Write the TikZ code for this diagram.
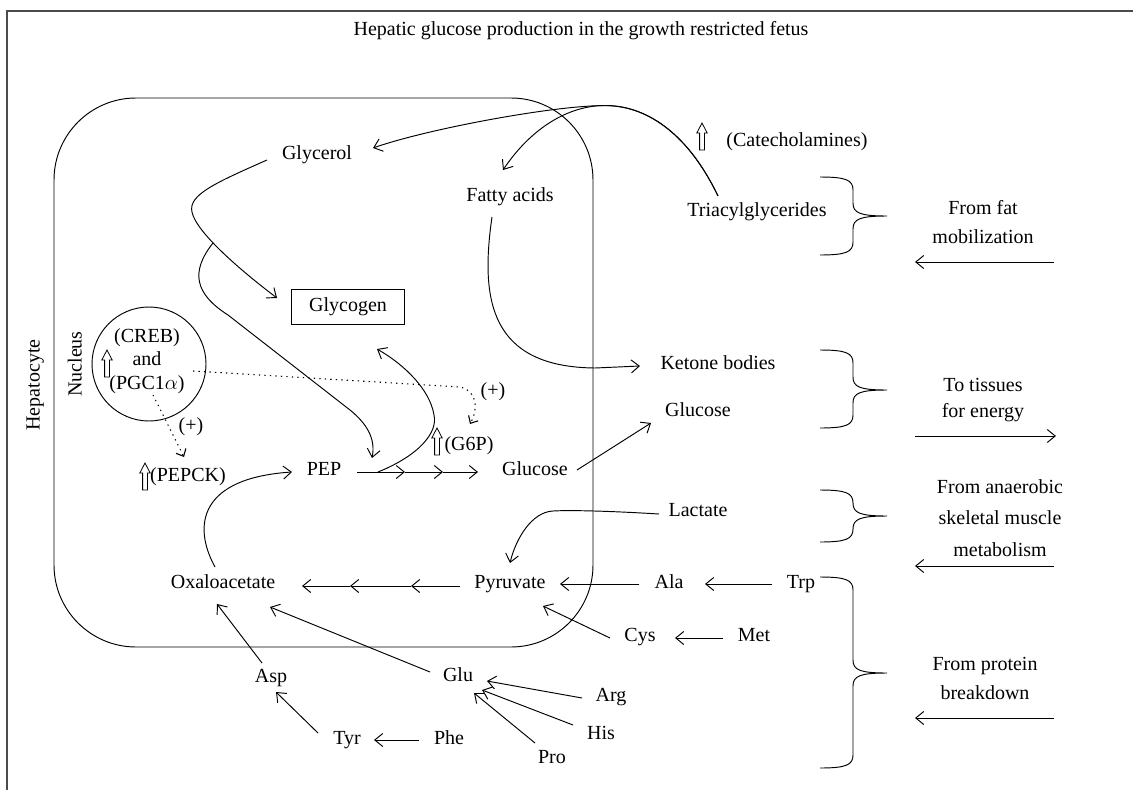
\documentclass[tikz,border=0pt]{standalone}
\usepackage{fontspec}
\setmainfont{Liberation Serif}
\usetikzlibrary{arrows.meta,calc}
\tikzset{
  lbl/.style={font=\fontsize{20}{24}\selectfont, inner sep=0pt, text height=13pt, text depth=4pt},
  multi/.style={font=\fontsize{20}{29}\selectfont, inner sep=0pt, align=center},
  ln/.style={line width=0.95pt},
  arr/.style={ln, -{Straight Barb[length=8pt,width=13pt]}},
  dotarr/.style={line width=1.1pt, dash pattern=on 1.3pt off 4.2pt, -{Straight Barb[length=6pt,width=11pt]}},
  hollow/.pic={\draw[line width=0.8pt, line join=miter] (-2.4,0) -- (-2.4,-17) -- (-5.2,-17) -- (0,-27) -- (5.2,-17) -- (2.4,-17) -- (2.4,0) -- cycle;},
}
\newcommand\mybrace[3]{\draw[ln] (820,#1) .. controls (846,#1) and (853,#1+3) .. (853,#1+13) -- (853,#2-13) .. controls (853,#2-3) and (860,#2) .. (887,#2) .. controls (860,#2) and (853,#2+3) .. (853,#2+13) -- (853,#3-13) .. controls (853,#3-3) and (846,#3) .. (820,#3);}
\begin{document}
\begin{tikzpicture}[x=1pt,y=-1pt]
\useasboundingbox (0,0) rectangle (1133,790);
\draw[black!70, line width=1.6pt] (7,790) -- (7,11) -- (1133,11);
\node[lbl] (title) at (581,31) {Hepatic glucose production in the growth restricted fetus};
% cell and nucleus
\node[draw, ln, rounded corners=82pt, minimum width=539pt, minimum height=549pt, inner sep=0pt] (cell) at (323.5,372.5) {};
\node[lbl, rotate=90] (hep) at (35,385) {Hepatocyte};
\node[draw, ln, circle, minimum size=114pt, inner sep=0pt] (nuc) at (149,364) {};
\node[lbl, rotate=90] (nuclab) at (77,364) {Nucleus};
\node[font=\fontsize{20}{23.5}\selectfont, inner sep=0pt, align=center] (creb) at (147,361) {(CREB)\\and\\(PGC1$\alpha$)};
\pic at (107,377) {hollow};
% metabolites
\node[lbl] (glycerol) at (317,155) {Glycerol};
\node[lbl, draw, ln, minimum width=113pt, minimum height=35pt] (glycogen) at (348,307) {Glycogen};
\node[lbl] (fatty) at (510,197) {Fatty acids};
\node[lbl] (tri) at (757,212) {Triacylglycerides};
\node[lbl] (catech) at (797,142) {(Catecholamines)};
\pic at (702,150) {hollow};
\node[lbl] (ketone) at (718,365) {Ketone bodies};
\node[lbl] (glcU) at (698,412) {Glucose};
\node[lbl] (glcM) at (535,471) {Glucose};
\node[lbl] (g6p) at (469,446) {(G6P)};
\pic at (437,455) {hollow};
\node[lbl] (pepck) at (188,477) {(PEPCK)};
\pic at (145,490) {hollow};
\node[lbl] (plus1) at (191,427) {(+)};
\node[lbl] (plus2) at (493,392) {(+)};
\node[lbl] (pep) at (324,471) {PEP};
\node[lbl] (lactate) at (698,512) {Lactate};
\node[lbl] (pyr) at (510,584) {Pyruvate};
\node[lbl] (ala) at (669,584) {Ala};
\node[lbl] (trp) at (801,584) {Trp};
\node[lbl] (cys) at (640,637) {Cys};
\node[lbl] (met) at (754,637) {Met};
\node[lbl] (glu) at (458,677) {Glu};
\node[lbl] (arg) at (611,697) {Arg};
\node[lbl] (his) at (601,735) {His};
\node[lbl] (pro) at (552,759) {Pro};
\node[lbl] (phe) at (449,740) {Phe};
\node[lbl] (tyr) at (347,740) {Tyr};
\node[lbl] (asp) at (271,678) {Asp};
\node[lbl] (oxa) at (223,584) {Oxaloacetate};
% right-hand texts
\node[multi] (fat) at (983,222) {From fat\\mobilization};
\node[font=\fontsize{20}{26}\selectfont, inner sep=0pt, align=center] (tis) at (983,400) {To tissues\\for energy};
\node[font=\fontsize{20}{31.5}\selectfont, inner sep=0pt, align=center] (anaer) at (1000,518) {From anaerobic\\skeletal muscle\\metabolism};
\node[multi] (prot) at (985,678) {From protein\\breakdown};
\draw[arr] ([shift={(71,40)}]fat.center) -- ([shift={(-68,40)}]fat.center);
\draw[arr] ([shift={(-68,36)}]tis.center) -- ([shift={(73,36)}]tis.center);
\draw[arr] ([shift={(54,48)}]anaer.center) -- ([shift={(-85,48)}]anaer.center);
\draw[arr] ([shift={(69,40)}]prot.center) -- ([shift={(-70,40)}]prot.center);
% braces
\mybrace{177}{216}{255}
\mybrace{350}{390}{428}
\mybrace{490}{516}{542}
\mybrace{577}{673}{768}
% fat mobilisation
\draw[arr] ([shift={(-39,-16)}]tri.center) .. controls (689,135.5) and (649.5,107.75) .. (610,105.75) .. controls (565,103.5) and (430,128) .. ([shift={(56,-7)}]glycerol.center);
\draw[arr] ([shift={(-39,-16)}]tri.center) .. controls (660,75) and (560,85) .. ([shift={(-7,-27)}]fatty.center);
\draw[arr] ([shift={(-50,5)}]glycerol.center) .. controls (215,183) and (188,195) .. (192,212) .. controls (196,232) and (240,270) .. ([shift={(-71,-9)}]glycogen.center);
\coordinate (br) at (213,243);
\draw[arr] (br) .. controls (190,272) and (195,294) .. (228,315) -- (350,410) .. controls (366,423) and (376,438) .. ([shift={(48,-13)}]pep.center);
\draw[arr] ([shift={(-18,20)}]fatty.center) .. controls (480,300) and (490,367) .. (595,368) -- ([shift={(-78,1)}]ketone.center);
% PEP to glucose
\coordinate (m1) at (405,472);
\coordinate (m2) at (443,472);
\draw[arr] ([shift={(33,1)}]pep.center) -- (m1);
\draw[arr] (m1) -- (m2);
\draw[arr] (m2) -- ([shift={(-57,1)}]glcM.center);
\draw[arr] ([shift={(54,1)}]pep.center) .. controls (420,455) and (438,432) .. (434,415) .. controls (430,390) and (405,365) .. ([shift={(29,42)}]glycogen.center);
\draw[arr] ([shift={(42,-1)}]glcM.center) -- ([shift={(-47,11)}]glcU.center);
\draw[arr] ([shift={(-8,-17)}]oxa.center) .. controls (192,525) and (200,478) .. ([shift={(-32,1)}]pep.center);
% pyruvate to oxaloacetate
\coordinate (m3) at (411,586);
\coordinate (m4) at (350,586);
\draw[arr] ([shift={(-50,2)}]pyr.center) -- (m3);
\draw[arr] (m3) -- (m4);
\draw[arr] (m4) -- ([shift={(79,2)}]oxa.center);
\draw[arr] ([shift={(-39,2)}]lactate.center) .. controls (610,511) and (570,510) .. (553,511) .. controls (532,512) and (516,538) .. ([shift={(0,-21)}]pyr.center);
% amino acids
\draw[arr] ([shift={(-30,0)}]ala.center) -- ([shift={(50,0)}]pyr.center);
\draw[arr] ([shift={(-29,0)}]trp.center) -- ([shift={(36,0)}]ala.center);
\draw[arr] ([shift={(-30,1)}]cys.center) -- ([shift={(33,22)}]pyr.center);
\draw[arr] ([shift={(-31,1)}]met.center) -- ([shift={(35,1)}]cys.center);
\draw[arr] ([shift={(-28,-5)}]glu.center) -- ([shift={(47,23)}]oxa.center);
\draw[arr] ([shift={(-9,-15)}]asp.center) -- ([shift={(-6,20)}]oxa.center);
\draw[arr] ([shift={(-29,-7)}]tyr.center) -- ([shift={(5,14)}]asp.center);
\draw[arr] ([shift={(-30,0)}]phe.center) -- ([shift={(27,0)}]tyr.center);
\draw[arr] ([shift={(-29,1)}]arg.center) -- ([shift={(29,4)}]glu.center);
\draw[arr] ([shift={(-28,-10)}]his.center) -- ([shift={(24,13)}]glu.center);
\draw[arr] ([shift={(-17,-16)}]pro.center) -- ([shift={(16,16)}]glu.center);
% regulation (dotted)
\draw[dotarr] ([shift={(44,7)}]nuc.center) -- (460,387) .. controls (478,391) and (478,410) .. ([shift={(1,-22)}]g6p.center);
\draw[dotarr] ([shift={(4,31)}]nuc.center) -- ([shift={(-4,-20)}]pepck.center);
\end{tikzpicture}
\end{document}
